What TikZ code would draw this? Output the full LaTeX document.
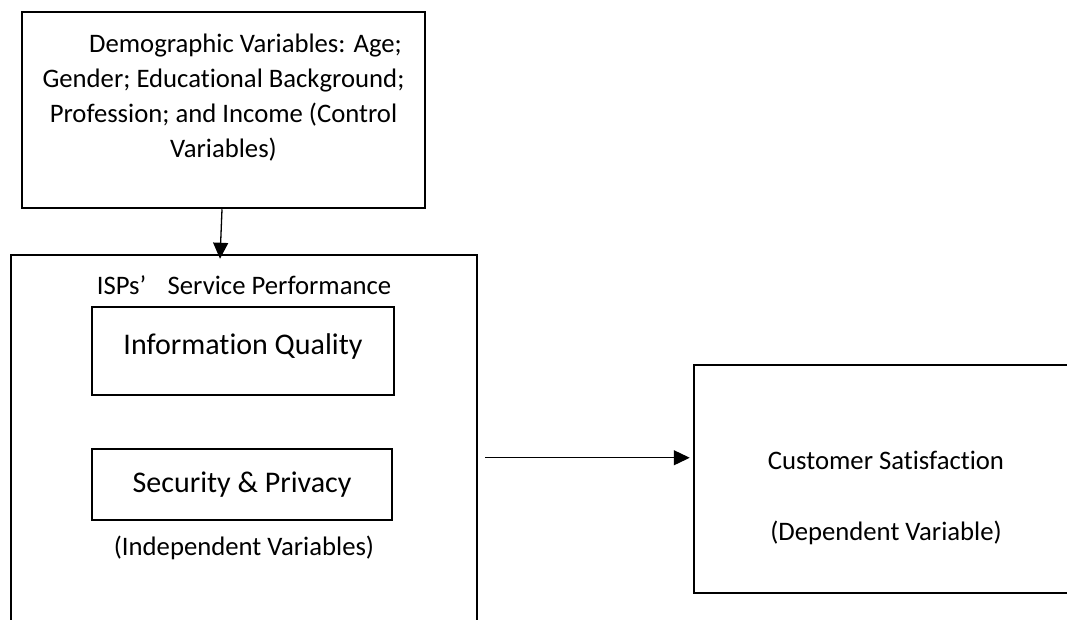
\documentclass[tikz,border=0pt]{standalone}
\usepackage{fontspec}
\setmainfont{Carlito}[RawFeature={-liga}]
\usetikzlibrary{arrows.meta,positioning,calc}

\begin{document}
\begin{tikzpicture}[x=1pt,y=-1pt,
  outerbox/.style={draw,line width=2.5pt,inner sep=0pt},
  innerbox/.style={draw,line width=1.8pt,inner sep=0pt},
  link/.style={line width=1.3pt,-{Triangle[length=16pt,width=15pt]}},
  bodytext/.style={font=\fontsize{26.7}{35}\selectfont,align=center},
  bigtext/.style={font=\fontsize{30}{36}\selectfont}]
  \useasboundingbox (0,0) rectangle (1067,619);
  \clip (0,0) rectangle (1067,619);
  % control variables
  \node[outerbox,minimum width=403pt,minimum height=196pt] (demo) at (223.5,110) {};
  \node[bodytext] (demotext) at (223.5,98) {\hspace*{44pt}Demographic Variables: Age;\\Gender; Educational Background;\\Profession; and Income (Control\\Variables)};
  % independent variables
  \node[outerbox,minimum width=466pt,minimum height=445pt] (isp) at (244,477.5) {};
  \node[bodytext] (isplabel) at (244,285) {ISPs’\hspace{0.8em}Service Performance};
  \node[innerbox,bigtext,minimum width=302pt,minimum height=88pt] (infoq) at (243,351) {Information Quality\rule[-14pt]{0pt}{0pt}};
  \node[innerbox,bigtext,minimum width=300pt,minimum height=71pt] (secpriv) at (242,484.5) {Security \& Privacy};
  \node[bodytext] (indeplabel) at (244,548) {(Independent Variables)};
  % dependent variable
  \node[outerbox,minimum width=386pt,minimum height=228pt] (cust) at (887,479) {};
  \node[bodytext] (custname) at (886,460) {Customer Satisfaction};
  \node[bodytext] (custnote) at (886,533) {(Dependent Variable)};
  \draw[link] ([xshift=-1.5pt]demo.south) -- ($(isp.north)+(-24,5)$);
  \draw[link] ($(isp.north east)+(7,204)$) -- ($(cust.north west)+(-3,94)$);
\end{tikzpicture}
\end{document}
